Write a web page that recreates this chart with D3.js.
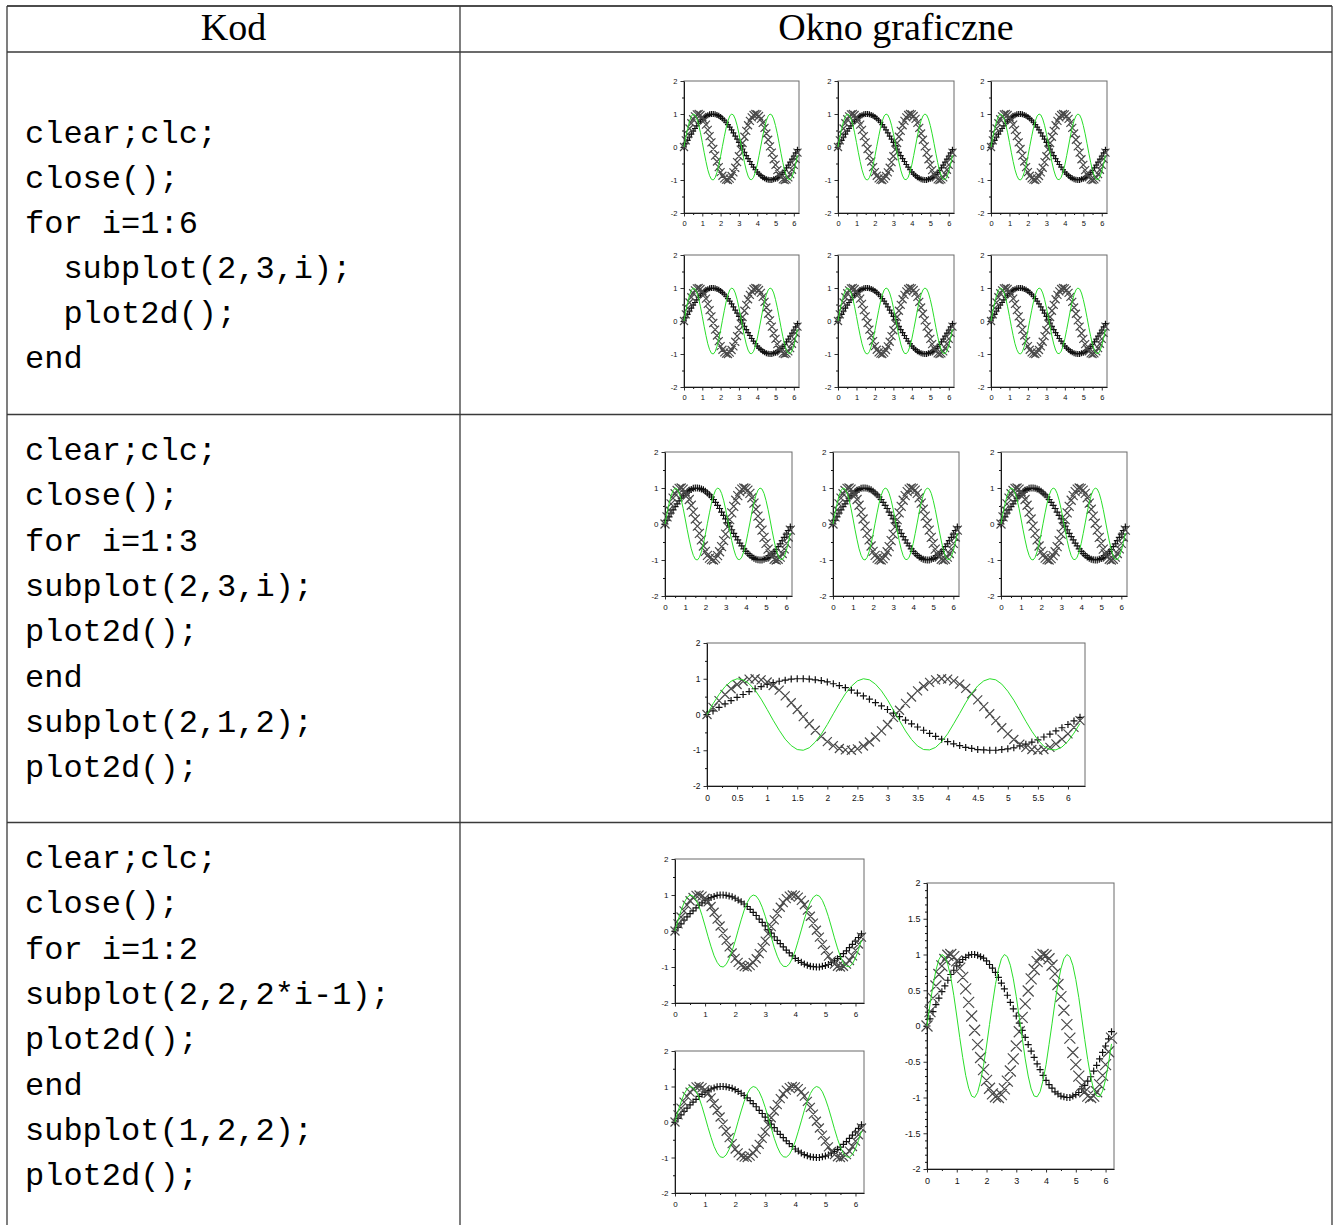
<!DOCTYPE html>
<html><head><meta charset="utf-8">
<script src="https://cdn.jsdelivr.net/npm/d3@7"></script>
<style>
body{margin:0;background:#fff;}
svg{display:block;}
</style></head>
<body>
<svg id="chart" width="1338" height="1225"></svg>
<script>
// ---------- DATA ----------
const xValues = [0.0,0.1,0.2,0.3,0.4,0.5,0.6,0.7,0.8,0.9,
  1.0,1.1,1.2,1.3,1.4,1.5,1.6,1.7,1.8,1.9,
  2.0,2.1,2.2,2.3,2.4,2.5,2.6,2.7,2.8,2.9,
  3.0,3.1,3.2,3.3,3.4,3.5,3.6,3.7,3.8,3.9,
  4.0,4.1,4.2,4.3,4.4,4.5,4.6,4.7,4.8,4.9,
  5.0,5.1,5.2,5.3,5.4,5.5,5.6,5.7,5.8,5.9,
  6.0,6.1,6.2];
// series drawn with '+' markers
const seriesPlus = [0.00,0.10,0.20,0.30,0.39,0.48,0.56,0.64,0.72,0.78,
  0.84,0.89,0.93,0.96,0.99,1.00,1.00,0.99,0.97,0.95,
  0.91,0.86,0.81,0.75,0.68,0.60,0.52,0.43,0.33,0.24,
  0.14,0.04,-0.06,-0.16,-0.26,-0.35,-0.44,-0.53,-0.61,-0.69,
  -0.76,-0.82,-0.87,-0.92,-0.95,-0.98,-0.99,-1.00,-1.00,-0.98,
  -0.96,-0.93,-0.88,-0.83,-0.77,-0.71,-0.63,-0.55,-0.46,-0.37,
  -0.28,-0.18,-0.08];
// series drawn with 'x' markers
const seriesCross = [0.00,0.20,0.39,0.56,0.72,0.84,0.93,0.99,1.00,0.97,
  0.91,0.81,0.68,0.52,0.33,0.14,-0.06,-0.26,-0.44,-0.61,
  -0.76,-0.87,-0.95,-0.99,-1.00,-0.96,-0.88,-0.77,-0.63,-0.46,
  -0.28,-0.08,0.12,0.31,0.49,0.66,0.79,0.90,0.97,1.00,
  0.99,0.94,0.85,0.73,0.58,0.41,0.22,0.02,-0.17,-0.37,
  -0.54,-0.70,-0.83,-0.92,-0.98,-1.00,-0.98,-0.92,-0.82,-0.69,
  -0.54,-0.36,-0.17];
// series drawn as green line
const seriesGreen = [0.00,0.30,0.56,0.78,0.93,1.00,0.97,0.86,0.68,0.43,
  0.14,-0.16,-0.44,-0.69,-0.87,-0.98,-1.00,-0.93,-0.77,-0.55,
  -0.28,0.02,0.31,0.58,0.79,0.94,1.00,0.97,0.85,0.66,
  0.41,0.12,-0.17,-0.46,-0.70,-0.88,-0.98,-0.99,-0.92,-0.76,
  -0.54,-0.26,0.03,0.33,0.59,0.80,0.94,1.00,0.97,0.85,
  0.65,0.40,0.11,-0.19,-0.47,-0.71,-0.89,-0.98,-0.99,-0.91,
  -0.75,-0.52,-0.25];
const xDomain = [0, 6.2832];
const yDomain = [-2, 2];
const xTickLabelsUnit = [0,1,2,3,4,5,6];
const xTickLabelsHalf = [0,0.5,1,1.5,2,2.5,3,3.5,4,4.5,5,5.5,6];
const yTickLabelsUnit = [-2,-1,0,1,2];
const yTickLabelsHalf = [-2,-1.5,-1,-0.5,0,0.5,1,1.5,2];
const headers = ["Kod", "Okno graficzne"];
const codeRow1 = ["clear;clc;","close();","for i=1:6","  subplot(2,3,i);","  plot2d();","end"];
const codeRow2 = ["clear;clc;","close();","for i=1:3","subplot(2,3,i);","plot2d();","end","subplot(2,1,2);","plot2d();"];
const codeRow3 = ["clear;clc;","close();","for i=1:2","subplot(2,2,2*i-1);","plot2d();","end","subplot(1,2,2);","plot2d();"];

// ---------- LAYOUT ----------
const svg = d3.select("#chart");
const lineColor = "#3a3a3a";
const tbl = {x0:7, x1:1332, xMid:460, ys:[6,52,414.5,822.5]};

// table lines
const gT = svg.append("g").attr("stroke", lineColor).attr("stroke-width", 1.3);
gT.append("line").attr("x1",tbl.x0).attr("x2",tbl.x1).attr("y1",tbl.ys[0]).attr("y2",tbl.ys[0]).attr("stroke","#111").attr("stroke-width",1.6);
tbl.ys.slice(1).forEach(y => gT.append("line").attr("x1",tbl.x0).attr("x2",tbl.x1).attr("y1",y).attr("y2",y));
[tbl.x0, tbl.xMid, tbl.x1].forEach(x => gT.append("line").attr("x1",x).attr("x2",x).attr("y1",tbl.ys[0]).attr("y2",1225));

// headers
svg.append("text").attr("x",(tbl.x0+tbl.xMid)/2).attr("y",40).attr("text-anchor","middle")
  .attr("font-family","'Liberation Serif', serif").attr("font-size",38).text(headers[0]);
svg.append("text").attr("x",(tbl.xMid+tbl.x1)/2).attr("y",40).attr("text-anchor","middle")
  .attr("font-family","'Liberation Serif', serif").attr("font-size",38).text(headers[1]);

// code
function drawCode(lines, y0, dy){
  const g = svg.append("g").attr("font-family","'Liberation Mono', monospace").attr("font-size",32).attr("fill","#000");
  lines.forEach((l,i)=> g.append("text").attr("x",25).attr("y",y0+i*dy).attr("xml:space","preserve").style("white-space","pre").text(l));
}
drawCode(codeRow1, 143, 45);
drawCode(codeRow2, 460, 45.3);
drawCode(codeRow3, 868, 45.3);

// plots
function midpoints(arr, n){
  const out=[];
  for(let i=0;i<arr.length-1;i++){
    const a=arr[i], b=arr[i+1];
    for(let k=1;k<=n;k++) out.push(a+(b-a)*k/(n+1));
  }
  return out;
}
function drawPlot(box, xTicks, xMinorN, yTicks, yMinorN, st){
  const g = svg.append("g");
  const x = d3.scaleLinear().domain(xDomain).range([box.x0, box.x1]);
  const y = d3.scaleLinear().domain(yDomain).range([box.y1, box.y0]);
  // frame
  g.append("rect").attr("x",box.x0).attr("y",box.y0).attr("width",box.x1-box.x0).attr("height",box.y1-box.y0)
    .attr("fill","none").attr("stroke","#6a6a6a").attr("stroke-width",1);
  // minor ticks
  const xm = midpoints(xTicks, xMinorN).filter(v=>v<=xDomain[1]);
  const ym = midpoints(yTicks, yMinorN);
  g.append("g").attr("transform",`translate(0,${box.y1})`)
    .call(d3.axisBottom(x).tickValues(xm).tickSize(2).tickSizeOuter(0).tickFormat(""))
    .call(s=>s.select(".domain").remove());
  g.append("g").attr("transform",`translate(${box.x0},0)`)
    .call(d3.axisLeft(y).tickValues(ym).tickSize(2).tickSizeOuter(0).tickFormat(""))
    .call(s=>s.select(".domain").remove());
  // major axes
  const ax = g.append("g").attr("transform",`translate(0,${box.y1})`)
    .call(d3.axisBottom(x).tickValues(xTicks).tickSize(3.5).tickSizeOuter(0).tickPadding(st.padX).tickFormat(d=>String(d)));
  const ay = g.append("g").attr("transform",`translate(${box.x0},0)`)
    .call(d3.axisLeft(y).tickValues(yTicks).tickSize(3.5).tickSizeOuter(0).tickPadding(3).tickFormat(d=>String(d)));
  [ax, ay].forEach(a => {
    a.selectAll("text").attr("font-family","'Liberation Sans', Arial, sans-serif").attr("font-size",st.font).attr("fill","#111");
    a.select(".domain").attr("stroke","#1a1a1a");
    a.selectAll(".tick line").attr("stroke","#1a1a1a");
  });
  g.selectAll(".tick line").attr("stroke-width",0.9);
  const pts = xValues.map((v,i)=>({x:v, a:seriesPlus[i], b:seriesCross[i], c:seriesGreen[i]}));
  // '+' markers
  const p = st.plus, c = st.cross;
  g.append("path").attr("fill","none").attr("stroke","#111").attr("stroke-width",1.2)
    .attr("d", pts.map(d=>{const px=x(d.x), py=y(d.a); return `M${px-p},${py}h${2*p}M${px},${py-p}v${2*p}`;}).join(""));
  // 'x' markers
  g.append("path").attr("fill","none").attr("stroke","#4a4a4a").attr("stroke-width",1.2)
    .attr("d", pts.map(d=>{const px=x(d.x), py=y(d.b); return `M${px-c},${py-c}l${2*c},${2*c}M${px-c},${py+c}l${2*c},${-2*c}`;}).join(""));
  // green line
  g.append("path").attr("fill","none").attr("stroke","#2ade2a").attr("stroke-width",1)
    .attr("d", d3.line().x(d=>x(d.x)).y(d=>y(d.c))(pts));
}

const stRow1 = {font:7.5, padX:4.5, plus:3, cross:4};
const stSmall = {font:8, padX:5, plus:3.5, cross:4.5};
const stWide = {font:8.5, padX:5.5, plus:3.5, cross:4.5};
const stTall = {font:9, padX:5, plus:3.5, cross:5.5};

// Row 1: 2x3 grid
[[684,799],[838,954],[991,1107]].forEach(([a,b])=>{
  drawPlot({x0:a,x1:b,y0:81,y1:213}, xTickLabelsUnit,1, yTickLabelsUnit,1, stRow1);
  drawPlot({x0:a,x1:b,y0:255,y1:387}, xTickLabelsUnit,1, yTickLabelsUnit,1, stRow1);
});
// Row 2: three small + one wide
[[665,792],[833,959],[1001,1127]].forEach(([a,b])=>{
  drawPlot({x0:a,x1:b,y0:452,y1:596}, xTickLabelsUnit,1, yTickLabelsUnit,1, stSmall);
});
drawPlot({x0:707,x1:1085,y0:643,y1:786}, xTickLabelsHalf,1, yTickLabelsUnit,1, stWide);
// Row 3
drawPlot({x0:675,x1:864,y0:859,y1:1003}, xTickLabelsUnit,1, yTickLabelsUnit,1, stSmall);
drawPlot({x0:675,x1:864,y0:1051,y1:1193}, xTickLabelsUnit,1, yTickLabelsUnit,1, stSmall);
drawPlot({x0:927,x1:1114,y0:883,y1:1169}, xTickLabelsUnit,1, yTickLabelsHalf,4, stTall);
</script>
</body></html>
